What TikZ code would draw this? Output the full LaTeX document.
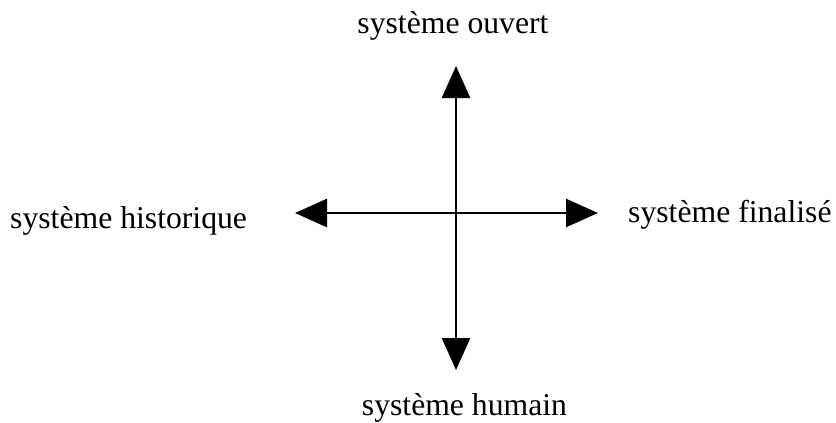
\documentclass[tikz,border=0pt]{standalone}
\usepackage{fontspec}
\setmainfont{Liberation Serif}
\usetikzlibrary{arrows.meta}
\begin{document}
\begin{tikzpicture}[x=1pt,y=-1pt,
  lab/.style={inner sep=0pt,font=\fontsize{31.7}{38}\selectfont},
  arr/.style={line width=2.7pt,-{Triangle[length=32pt,width=28pt]}}]
\useasboundingbox (0,0) rectangle (836,423);
\node[lab,anchor=base] (ouvert) at (453,33) {système ouvert};
\node[lab,anchor=base west] (historique) at (10,228) {système historique};
\node[lab,anchor=base west] (finalise) at (628,222) {système finalisé};
\node[lab,anchor=base] (humain) at (464.5,415) {système humain};
\coordinate (c) at (456,213);
\coordinate (t) at (456,66);
\coordinate (b) at (456,370);
\coordinate (l) at (295,213);
\coordinate (r) at (598,213);
\draw[arr] (c) -- (t);
\draw[arr] (c) -- (b);
\draw[arr] (c) -- (l);
\draw[arr] (c) -- (r);
\end{tikzpicture}
\end{document}
